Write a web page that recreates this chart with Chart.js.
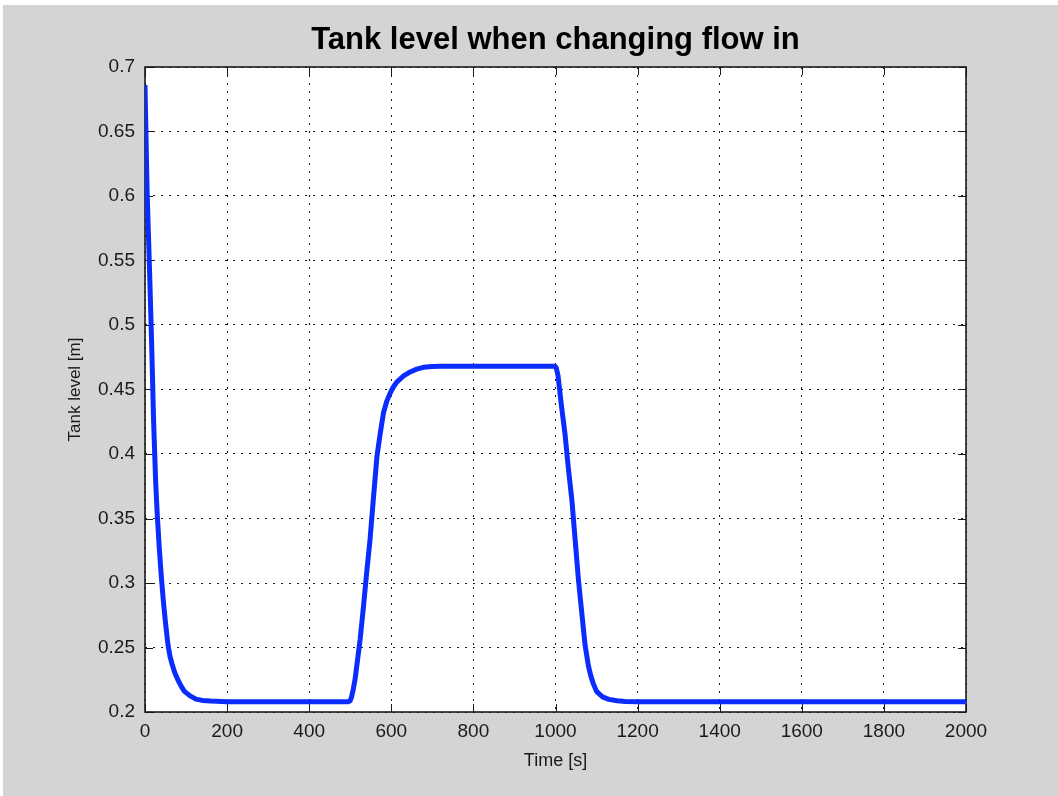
<!DOCTYPE html>
<html>
<head>
<meta charset="utf-8">
<script src="https://cdn.jsdelivr.net/npm/chart.js@4.4.1/dist/chart.umd.min.js"></script>
<style>
  html, body { margin: 0; padding: 0; background: #ffffff; }
  #wrap { width: 1058px; height: 796px; }
</style>
</head>
<body>
<div id="wrap"><canvas id="c" width="1058" height="796"></canvas></div>
<script>
// ---- data ----
const chartTitle = 'Tank level when changing flow in';
const xAxisTitle = 'Time [s]';
const yAxisTitle = 'Tank level [m]';

const timeS = [0, 5, 11, 16, 21, 26, 30, 35, 40, 45,
  50, 56, 61, 67, 73, 80, 88, 96, 110, 124,
  140, 160, 200, 300, 400, 495, 500, 503, 507, 512,
  516, 520, 524, 532, 540, 548, 556, 565, 573, 581,
  589, 597, 605, 614, 630, 646, 662, 678, 700, 719,
  800, 900, 999, 1002, 1006, 1010, 1015, 1023, 1031, 1040,
  1048, 1056, 1064, 1072, 1080, 1086, 1092, 1100, 1108, 1116,
  1130, 1150, 1170, 1200, 1400, 1600, 1800, 2000];

const tankLevel = [0.686, 0.605, 0.543, 0.488, 0.425, 0.378, 0.352, 0.326, 0.304, 0.285,
  0.269, 0.252, 0.243, 0.236, 0.230, 0.225, 0.220, 0.216, 0.2125, 0.210,
  0.209, 0.2085, 0.208, 0.208, 0.208, 0.208, 0.2088, 0.2115, 0.217, 0.226,
  0.236, 0.246, 0.256, 0.281, 0.308, 0.333, 0.364, 0.398, 0.416, 0.432,
  0.441, 0.447, 0.452, 0.456, 0.4605, 0.4636, 0.4658, 0.4672, 0.4679, 0.468,
  0.468, 0.468, 0.468, 0.4665, 0.461, 0.450, 0.436, 0.416, 0.39, 0.364,
  0.333, 0.302, 0.277, 0.252, 0.236, 0.228, 0.222, 0.216, 0.2135, 0.2115,
  0.2098, 0.2087, 0.2082, 0.208, 0.208, 0.208, 0.208, 0.208];

const xTickValues = [0, 200, 400, 600, 800, 1000, 1200, 1400, 1600, 1800, 2000];
const xTickLabels = ['0', '200', '400', '600', '800', '1000', '1200', '1400', '1600', '1800', '2000'];
const yTickValues = [0.2, 0.25, 0.3, 0.35, 0.4, 0.45, 0.5, 0.55, 0.6, 0.65, 0.7];
const yTickLabels = ['0.2', '0.25', '0.3', '0.35', '0.4', '0.45', '0.5', '0.55', '0.6', '0.65', '0.7'];

// ---- build ----
const points = timeS.map((t, i) => ({ x: t, y: tankLevel[i] }));
const FONT = '"Liberation Sans", Arial, Helvetica, sans-serif';
const INK = '#1a1a1a';

const figurePlugin = {
  id: 'figure',
  beforeDraw(chart) {
    const { ctx, chartArea: a } = chart;
    ctx.save();
    ctx.fillStyle = '#ffffff';
    ctx.fillRect(0, 0, chart.width, chart.height);
    ctx.fillStyle = '#d4d4d4';
    ctx.fillRect(3, 5, chart.width - 3, chart.height - 5);
    ctx.fillStyle = '#ffffff';
    ctx.fillRect(a.left, a.top, a.right - a.left, a.bottom - a.top);
    ctx.restore();
  },
  beforeDatasetsDraw(chart) {
    const { ctx, chartArea: a, scales } = chart;
    ctx.save();
    ctx.strokeStyle = INK;
    ctx.lineWidth = 1;
    const tl = 8;
    ctx.beginPath();
    scales.x.ticks.forEach(t => {
      const px = Math.round(scales.x.getPixelForValue(t.value)) + 0.5;
      ctx.moveTo(px, a.bottom); ctx.lineTo(px, a.bottom - tl);
      ctx.moveTo(px, a.top); ctx.lineTo(px, a.top + tl);
    });
    scales.y.ticks.forEach(t => {
      const py = Math.round(scales.y.getPixelForValue(t.value)) + 0.5;
      ctx.moveTo(a.left, py); ctx.lineTo(a.left + tl, py);
      ctx.moveTo(a.right, py); ctx.lineTo(a.right - tl, py);
    });
    ctx.stroke();
    ctx.lineWidth = 1.6;
    ctx.strokeRect(a.left, a.top, a.right - a.left, a.bottom - a.top);
    ctx.restore();
  }
};

new Chart(document.getElementById('c'), {
  type: 'line',
  data: {
    datasets: [{
      data: points,
      borderColor: '#0a2cff',
      borderWidth: 5,
      pointRadius: 0,
      tension: 0,
      borderJoinStyle: 'round',
      fill: false,
      clip: 0
    }]
  },
  options: {
    responsive: false,
    animation: false,
    devicePixelRatio: 1,
    layout: { padding: { left: 0, right: 92, top: 0, bottom: 0 } },
    plugins: {
      legend: { display: false },
      tooltip: { enabled: false },
      title: {
        display: true,
        text: chartTitle,
        fullSize: false,
        color: '#000000',
        font: { family: FONT, size: 31, weight: 'bold', lineHeight: 1.2 },
        padding: { top: 22, bottom: 7.8 }
      }
    },
    scales: {
      x: {
        type: 'linear',
        min: 0, max: 2000,
        afterBuildTicks: s => { s.ticks = xTickValues.map(v => ({ value: v })); },
        afterFit: s => { s.height = 84; },
        ticks: {
          autoSkip: false,
          maxRotation: 0,
          padding: 8,
          color: INK,
          font: { family: FONT, size: 19 },
          callback: (v, i) => xTickLabels[i]
        },
        grid: { color: INK, lineWidth: 1, drawTicks: false },
        border: { display: false, dash: [2, 6] },
        title: {
          display: true, text: xAxisTitle, color: INK,
          font: { family: FONT, size: 18, lineHeight: 1.2 },
          padding: { top: 0, bottom: 24 }
        }
      },
      y: {
        type: 'linear',
        min: 0.2, max: 0.7,
        afterBuildTicks: s => { s.ticks = yTickValues.map(v => ({ value: v })); },
        afterFit: s => { s.width = 145; },
        ticks: {
          autoSkip: false,
          padding: 10,
          color: INK,
          font: { family: FONT, size: 19 },
          callback: (v, i) => yTickLabels[i]
        },
        grid: { color: INK, lineWidth: 1, drawTicks: false },
        border: { display: false, dash: [2, 6] },
        title: {
          display: true, text: yAxisTitle, color: INK,
          font: { family: FONT, size: 17, lineHeight: 1.2 },
          padding: { top: 65, bottom: 0 }
        }
      }
    }
  },
  plugins: [figurePlugin]
});
</script>
</body>
</html>
